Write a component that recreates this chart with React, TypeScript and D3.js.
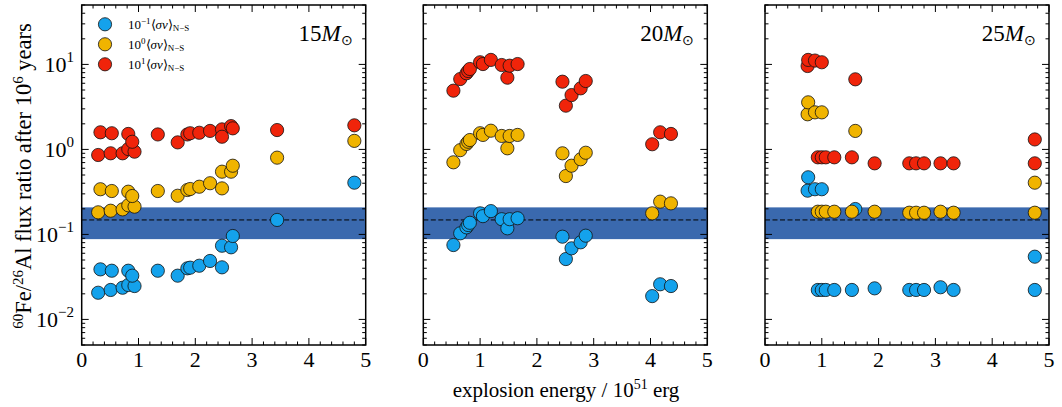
import React from "react";
import * as d3 from "d3";

// explosion energies (10^51 erg) of each model, per progenitor mass
const energy15 = [0.29, 0.51, 0.72, 0.82, 0.93, 0.33, 0.53, 0.82, 0.89, 1.34, 1.69, 1.86, 1.91, 2.07, 2.26, 2.47, 2.47, 2.63, 2.66, 3.44, 4.8];
const low15 = [0.0206, 0.0222, 0.0236, 0.0254, 0.0247, 0.0388, 0.0374, 0.0374, 0.0327, 0.0374, 0.0327, 0.0399, 0.0406, 0.0428, 0.0487, 0.0736, 0.041, 0.0705, 0.0958, 0.148, 0.406];
const mid15 = [0.182, 0.19, 0.197, 0.22, 0.212, 0.34, 0.324, 0.318, 0.283, 0.324, 0.285, 0.333, 0.342, 0.364, 0.4, 0.547, 0.348, 0.547, 0.643, 0.8, 1.26];
const high15 = [0.86, 0.9, 0.9, 1.01, 0.94, 1.59, 1.55, 1.52, 1.23, 1.5, 1.21, 1.5, 1.55, 1.57, 1.65, 1.72, 1.41, 1.88, 1.77, 1.69, 1.92];

const energy20 = [0.53, 0.65, 0.76, 0.79, 0.82, 1.0, 1.05, 1.19, 1.38, 1.48, 1.52, 1.66, 2.45, 2.51, 2.61, 2.77, 2.86, 4.03, 4.17, 4.36];
const low20 = [0.075, 0.103, 0.121, 0.129, 0.137, 0.177, 0.164, 0.188, 0.151, 0.118, 0.151, 0.155, 0.094, 0.0513, 0.0686, 0.0807, 0.0966, 0.0188, 0.0259, 0.0247];
const mid20 = [0.705, 0.98, 1.16, 1.23, 1.29, 1.55, 1.48, 1.66, 1.44, 1.03, 1.44, 1.48, 0.9, 0.486, 0.643, 0.765, 0.914, 0.177, 0.243, 0.232];
const high20 = [4.91, 6.73, 7.86, 8.36, 8.83, 10.6, 10.1, 11.3, 9.84, 6.98, 9.66, 10.1, 6.26, 3.27, 4.36, 5.23, 6.38, 1.15, 1.59, 1.52];

const energy25 = [0.75, 0.76, 0.88, 1.0, 1.59, 0.93, 1.0, 1.07, 1.22, 1.53, 1.93, 2.54, 2.66, 2.8, 3.09, 3.32, 4.75, 4.75];
const low25 = [0.327, 0.47, 0.34, 0.34, 0.199, 0.0222, 0.0222, 0.0222, 0.0222, 0.0222, 0.0232, 0.0222, 0.0222, 0.0222, 0.0239, 0.0222, 0.0547, 0.0222];
const mid25 = [2.59, 3.58, 2.73, 2.73, 1.65, 0.185, 0.185, 0.185, 0.185, 0.185, 0.185, 0.18, 0.18, 0.18, 0.185, 0.18, 0.406, 0.18];
const high25 = [9.58, 11.3, 11.1, 10.6, 6.68, 0.807, 0.807, 0.807, 0.807, 0.807, 0.686, 0.686, 0.686, 0.686, 0.686, 0.686, 1.31, 0.686];

const masses = ["15", "20", "25"];
const rateExponents = ["−1", "0", "1"];
const seriesColors = ["#14a2ec", "#f0b400", "#f0240a"];

// observed ratio with its uncertainty band
const observed = 0.148;
const observedLow = 0.088;
const observedHigh = 0.208;

const xTicks = [0, 1, 2, 3, 4, 5];
const yTicks = [0.01, 0.1, 1, 10];
const yTickExp = ["−2", "−1", "0", "1"];

const panels = [
  { mass: masses[0], energy: energy15, series: [low15, mid15, high15] },
  { mass: masses[1], energy: energy20, series: [low20, mid20, high20] },
  { mass: masses[2], energy: energy25, series: [low25, mid25, high25] },
];

const W = 1062;
const H = 407;
const top = 5;
const bottom = 345;
const panelLefts = [81.7, 423.3, 765];
const panelW = 284;
const font = "'Liberation Serif', 'Times New Roman', serif";

const y = d3.scaleLog().domain([0.005, 50]).range([bottom, top]);

const yMinor: number[] = [];
for (const dec of [0.001, 0.01, 0.1, 1, 10]) {
  for (let k = 2; k <= 9; k++) {
    const v = dec * k;
    if (v >= 0.005 && v <= 50) yMinor.push(v);
  }
}
const xMinor = d3.range(0, 5.001, 0.2).filter((v) => Math.abs(v - Math.round(v)) > 1e-6);

const Panel = ({ idx }: { idx: number }) => {
  const p = panels[idx];
  const left = panelLefts[idx];
  const right = left + panelW;
  const x = d3.scaleLinear().domain([0, 5]).range([left, right]);
  const major = 7;
  const minor = 3.5;
  return (
    <g>
      <rect
        x={left}
        width={panelW}
        y={y(observedHigh)}
        height={y(observedLow) - y(observedHigh)}
        fill="#3a69ae"
      />
      <line x1={left} x2={right} y1={y(observed)} y2={y(observed)} stroke="#000" strokeWidth={1} strokeDasharray="5,2.5" />
      {p.series.map((vals, s) => (
        <g key={s}>
          {vals.map((v, i) => (
            <circle key={i} cx={x(p.energy[i])} cy={y(v)} r={6.6} fill={seriesColors[s]} stroke="#111" strokeWidth={0.8} />
          ))}
        </g>
      ))}
      {/* ticks point inward on all four sides */}
      <g stroke="#000" strokeWidth={1}>
        {xTicks.map((t) => (
          <g key={"xm" + t}>
            <line x1={x(t)} x2={x(t)} y1={bottom} y2={bottom - major} />
            <line x1={x(t)} x2={x(t)} y1={top} y2={top + major} />
          </g>
        ))}
        {xMinor.map((t) => (
          <g key={"xn" + t}>
            <line x1={x(t)} x2={x(t)} y1={bottom} y2={bottom - minor} />
            <line x1={x(t)} x2={x(t)} y1={top} y2={top + minor} />
          </g>
        ))}
        {yTicks.map((t) => (
          <g key={"ym" + t}>
            <line x1={left} x2={left + major} y1={y(t)} y2={y(t)} />
            <line x1={right} x2={right - major} y1={y(t)} y2={y(t)} />
          </g>
        ))}
        {yMinor.map((t) => (
          <g key={"yn" + t}>
            <line x1={left} x2={left + minor} y1={y(t)} y2={y(t)} />
            <line x1={right} x2={right - minor} y1={y(t)} y2={y(t)} />
          </g>
        ))}
      </g>
      <rect x={left} y={top} width={panelW} height={bottom - top} fill="none" stroke="#000" strokeWidth={1.5} />
      {xTicks.map((t) => (
        <text key={"xl" + t} x={x(t)} y={367} textAnchor="middle" fontSize={22} fontFamily={font}>
          {t}
        </text>
      ))}
      <text x={right - 13} y={41} textAnchor="end" fontSize={23} fontFamily={font}>
        {p.mass}
        <tspan fontStyle="italic">M</tspan>
        <tspan fontSize={14} dy={4}>⊙</tspan>
      </text>
      {idx === 0 &&
        yTicks.map((t, i) => (
          <text key={"yl" + t} x={74} y={y(t) + 8} textAnchor="end" fontSize={22} fontFamily={font}>
            10
            <tspan fontSize={15} dy={-10}>{yTickExp[i]}</tspan>
          </text>
        ))}
      {idx === 0 &&
        rateExponents.map((e, i) => (
          <g key={"lg" + i}>
            <circle cx={105} cy={24.3 + 20 * i} r={6.6} fill={seriesColors[i]} stroke="#111" strokeWidth={0.8} />
            <text x={128} y={28.5 + 20 * i} fontSize={13} fontFamily={font}>
              10
              <tspan fontSize={9} dy={-5}>{e}</tspan>
              <tspan dy={5}>⟨</tspan>
              <tspan fontStyle="italic">σv</tspan>
              <tspan>⟩</tspan>
              <tspan fontSize={9} dy={2.5}>N−S</tspan>
            </text>
          </g>
        ))}
    </g>
  );
};

export default function App() {
  return (
    <svg width={W} height={H} style={{ position: "absolute", left: 0, top: 0, background: "#fff" }}>
      {panels.map((_, i) => (
        <Panel key={i} idx={i} />
      ))}
      <text x={566} y={397} textAnchor="middle" fontSize={21} fontFamily={font}>
        explosion energy / 10
        <tspan fontSize={14} dy={-8}>51</tspan>
        <tspan dy={8}> erg</tspan>
      </text>
      <text transform="translate(31,176) rotate(-90)" textAnchor="middle" fontSize={22.5} fontFamily={font}>
        <tspan fontSize={15} dy={-8}>60</tspan>
        <tspan dy={8}>Fe/</tspan>
        <tspan fontSize={15} dy={-8}>26</tspan>
        <tspan dy={8}>Al flux ratio after 10</tspan>
        <tspan fontSize={15} dy={-8}>6</tspan>
        <tspan dy={8}> years</tspan>
      </text>
    </svg>
  );
}
